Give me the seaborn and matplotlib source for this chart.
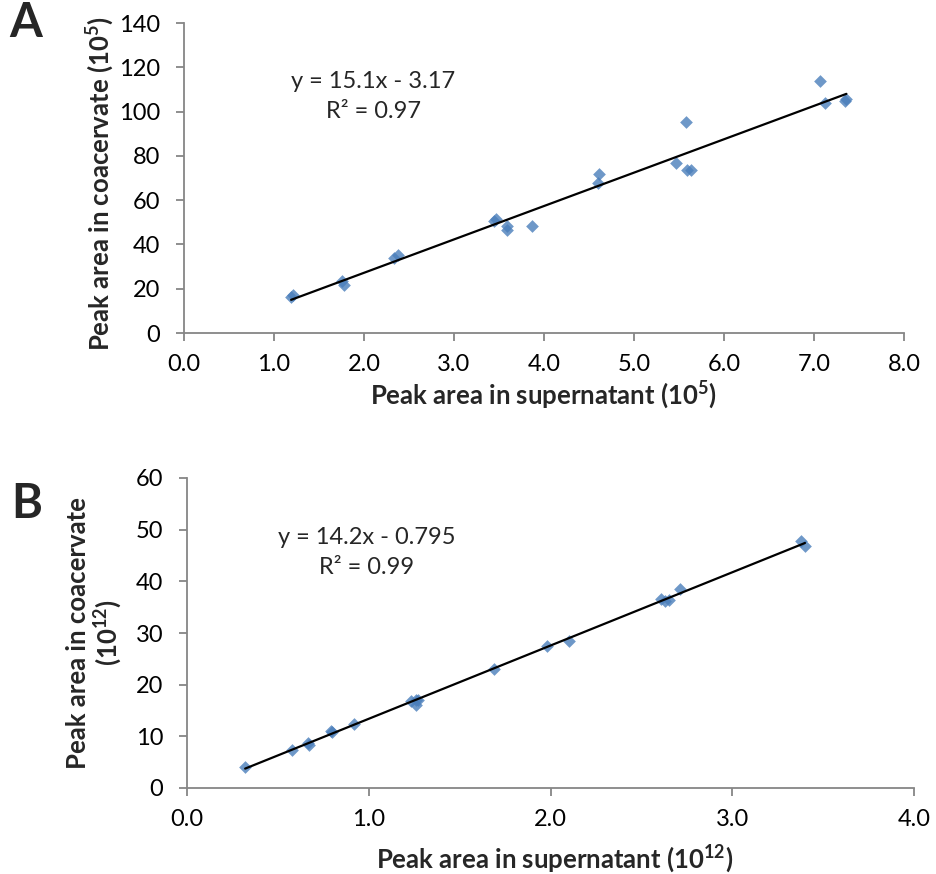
import numpy as np
import pandas as pd
import matplotlib
matplotlib.use("Agg")
import matplotlib.pyplot as plt
import seaborn as sns

# Panel A data (units of 10^5)
a_super = [1.19, 1.21, 1.76, 1.78, 2.33, 2.38, 3.44, 3.47, 3.59, 3.59, 3.87,
           4.61, 4.60, 5.47, 5.58, 5.59, 5.63, 7.07, 7.12, 7.34, 7.36]
a_coac = [16.4, 17.0, 23.5, 21.7, 33.7, 35.2, 50.6, 51.3, 48.3, 46.5, 48.3,
          71.8, 67.9, 76.6, 95.2, 73.6, 73.6, 114.0, 103.7, 104.9, 105.5]

# Panel B data (units of 10^12)
b_super = [0.32, 0.58, 0.668, 0.674, 0.79, 0.80, 0.92, 1.23, 1.26, 1.26, 1.27,
           1.69, 1.98, 2.10, 2.61, 2.63, 2.65, 2.71, 3.38, 3.40]
b_coac = [4.06, 7.4, 8.8, 8.4, 11.1, 10.8, 12.4, 16.75, 17.1, 16.0, 17.1,
          23.1, 27.4, 28.4, 36.6, 36.1, 36.3, 38.5, 47.9, 46.9]

eq_a = ["y = 15.1x - 3.17", "R\u00b2 = 0.97"]
eq_b = ["y = 14.2x - 0.795", "R\u00b2 = 0.99"]

sns.set_theme(style="white")
FONT = "Lato"
plt.rcParams["font.family"] = [FONT, "DejaVu Sans"]
plt.rcParams["mathtext.fontset"] = "custom"
plt.rcParams["mathtext.rm"] = FONT
plt.rcParams["mathtext.bf"] = FONT + ":bold"

W, H = 936, 874
fig = plt.figure(figsize=(W / 100, H / 100), dpi=100)

def px_axes(l, t, r, b):
    return fig.add_axes([l / W, 1 - b / H, (r - l) / W, (b - t) / H])

A_BOX = (184, 23, 904, 333)
B_BOX = (187, 478, 914, 788)
axA = px_axes(*A_BOX)
axB = px_axes(*B_BOX)

BLUE = "#4a7ebb"
GRAY = "#868686"
FS = 17
LFS = 18.5

def style(ax, xmax, ymax, ystep):
    ax.set_xlim(0, xmax)
    ax.set_ylim(0, ymax)
    ax.set_xticks(np.arange(0, xmax + 0.01, 1))
    ax.set_xticklabels([f"{v:.1f}" for v in np.arange(0, xmax + 0.01, 1)])
    ax.set_yticks(np.arange(0, ymax + 0.01, ystep))
    ax.set_yticklabels([f"{int(v)}" for v in np.arange(0, ymax + 0.01, ystep)])
    for s in ["top", "right"]:
        ax.spines[s].set_visible(False)
    for s in ["left", "bottom"]:
        ax.spines[s].set_color(GRAY)
        ax.spines[s].set_linewidth(1.3)
    ax.tick_params(axis="both", which="major", direction="out", length=6,
                   width=1.3, color=GRAY, labelsize=FS, labelcolor="black",
                   left=True, bottom=True)
    ax.tick_params(axis="x", pad=9)
    ax.tick_params(axis="y", pad=11)
    ax.grid(False)
    ax.set_facecolor("none")

dfA = pd.DataFrame({"x": a_super, "y": a_coac})
dfB = pd.DataFrame({"x": b_super, "y": b_coac})

for ax, df in [(axA, dfA), (axB, dfB)]:
    sns.regplot(data=df, x="x", y="y", ax=ax, ci=None, truncate=True,
                marker="D",
                scatter_kws=dict(s=42, color=BLUE, edgecolor=BLUE, linewidths=0, zorder=2),
                line_kws=dict(color="black", linewidth=1.6, zorder=3))

style(axA, 8, 140, 20)
style(axB, 4, 60, 10)

def label_px(ax, box, which, cx, cy):
    l, t, r, b = box
    fx = (cx - l) / (r - l)
    fy = (b - cy) / (b - t)
    if which == "x":
        ax.xaxis.label.set_va("center")
        ax.xaxis.set_label_coords(fx, fy)
    else:
        ax.yaxis.label.set_va("center")
        ax.yaxis.set_label_coords(fx, fy)

axA.set_xlabel("Peak area in supernatant (10$^{\\mathbf{5}}$)", fontsize=LFS,
               fontweight="bold")
axA.set_ylabel("Peak area in coacervate (10$^{\\mathbf{5}}$)", fontsize=LFS,
               fontweight="bold")
axB.set_xlabel("Peak area in supernatant (10$^{\\mathbf{12}}$)", fontsize=LFS,
               fontweight="bold")
axB.set_ylabel("Peak area in coacervate\n(10$^{\\mathbf{12}}$)", fontsize=LFS,
               fontweight="bold", linespacing=1.05)
axB.yaxis.label.set_multialignment("center")

label_px(axA, A_BOX, "x", 543, 395)
label_px(axA, A_BOX, "y", 100, 184)
label_px(axB, B_BOX, "x", 555, 859)
label_px(axB, B_BOX, "y", 95, 633)

def ptxt(x, y, s, **kw):
    fig.text(x / W, 1 - y / H, s, **kw)

ptxt(373, 82, eq_a[0], ha="center", va="center", fontsize=FS)
ptxt(373, 112, eq_a[1], ha="center", va="center", fontsize=FS)
ptxt(367, 537, eq_b[0], ha="center", va="center", fontsize=FS)
ptxt(367, 568, eq_b[1], ha="center", va="center", fontsize=FS)

ptxt(26, 23, "A", ha="center", va="center", fontsize=34, fontweight="bold")
ptxt(27, 504, "B", ha="center", va="center", fontsize=34, fontweight="bold")

fig.savefig("out.png", dpi=100, facecolor="white")
